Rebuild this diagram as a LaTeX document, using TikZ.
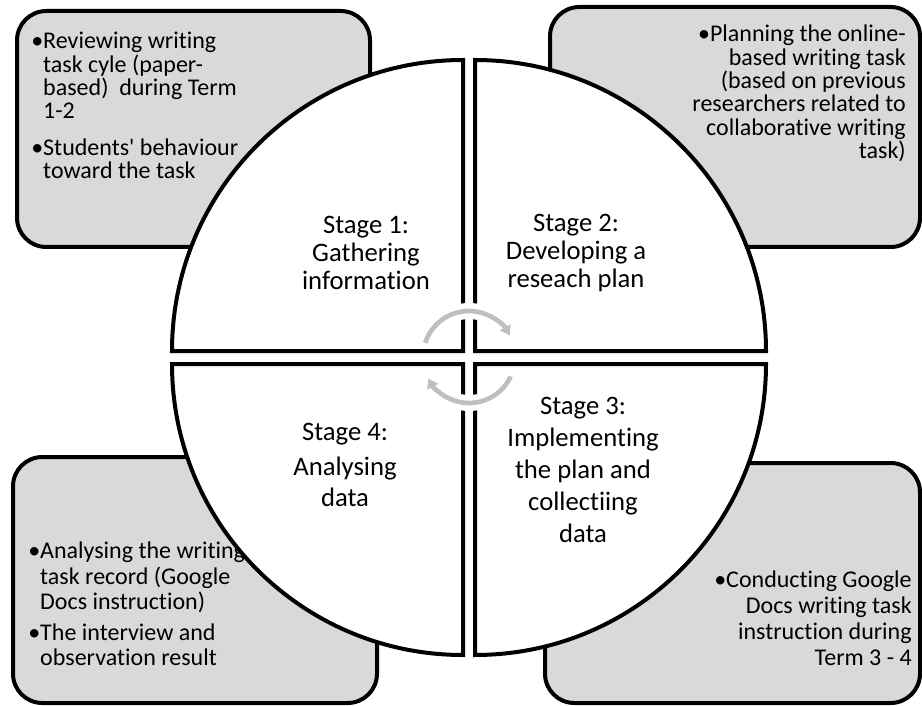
\documentclass[tikz,border=0pt]{standalone}
\usepackage{fontspec}
\setmainfont{Carlito}[Ligatures={NoCommon}]
\usetikzlibrary{arrows.meta}

\definecolor{boxgray}{RGB}{217,217,217}
\definecolor{arrowgray}{RGB}{191,191,191}

\tikzset{
  infobox/.style={draw=black, line width=3pt, fill=boxgray, rounded corners=22pt},
  quadrant/.style={draw=black, line width=3pt, fill=white},
  infotext/.style={inner sep=0pt, font=\fontsize{18}{17.5}\selectfont},
  stagetext/.style={inner sep=0pt, align=center, font=\fontsize{20}{21}\selectfont},
  cyclearc/.style={draw=arrowgray, line width=3.5pt, -{Triangle[length=7pt,width=9pt]}},
  gaperase/.style={draw=white, line width=12pt},
}
\newcommand{\hang}{\phantom{\textbullet}}

\begin{document}
\begin{tikzpicture}[x=0.75pt,y=0.75pt,yscale=-1,xscale=1]
    \useasboundingbox (0,0) rectangle (922,706);

    %Shape: Rounded Rect [id:boxTL]
    \draw [infobox] (17,11) rectangle (370,247) ;
    %Shape: Rounded Rect [id:boxTR]
    \draw [infobox] (550,7) rectangle (920,247) ;
    %Shape: Rounded Rect [id:boxBL]
    \draw [infobox] (13,457) rectangle (377,703) ;
    %Shape: Rounded Rect [id:boxBR]
    \draw [infobox] (545,463) rectangle (920,703) ;

    % Text Node
    \node (infoTL) [infotext, anchor=north west, align=left] at (31,32) {\textbullet Reviewing writing\\
    \hang task cyle (paper-\\
    \hang based)\ \ during Term\\
    \hang 1-2\\[10pt]
    \textbullet Students\textquotesingle{} behaviour\\
    \hang toward the task};
    % Text Node
    \node (infoTR) [infotext, anchor=north east, align=right] at (906,25) {\textbullet Planning the online-\\
    based writing task\\
    (based on previous\\
    researchers related to\\
    collaborative writing\\
    task)};
    % Text Node
    \node (infoBL) [infotext, anchor=north west, align=left, font=\fontsize{18}{19}\selectfont] at (28,542) {\textbullet Analysing the writing\\
    \hang task record (Google\\
    \hang Docs instruction)\\[4pt]
    \textbullet The interview and\\
    \hang observation result};
    % Text Node
    \node (infoBR) [infotext, anchor=north east, align=right, font=\fontsize{18}{19.5}\selectfont] at (912,571) {\textbullet Conducting Google\\
    Docs writing task\\
    instruction during\\
    Term 3 - 4};

    %Shape: Quarter Circle [id:quadTL]
    \draw [quadrant] (463,351) -- (172,351) arc [start angle=180, end angle=270, radius=291] -- cycle ;
    %Shape: Quarter Circle [id:quadTR]
    \draw [quadrant] (475,351) -- (475,60) arc [start angle=270, end angle=360, radius=291] -- cycle ;
    %Shape: Quarter Circle [id:quadBR]
    \draw [quadrant] (475,364) -- (766,364) arc [start angle=0, end angle=90, radius=291] -- cycle ;
    %Shape: Quarter Circle [id:quadBL]
    \draw [quadrant] (463,364) -- (463,655) arc [start angle=90, end angle=180, radius=291] -- cycle ;

    % Text Node
    \node (stage1) [stagetext] at (366,253) {Stage 1:\\Gathering\\information};
    % Text Node
    \node (stage2) [stagetext] at (576,253) {Stage 2:\\Developing a\\reseach plan};
    % Text Node
    \node (stage3) [stagetext, font=\fontsize{20}{24}\selectfont] at (583,470) {Stage 3:\\Implementing\\the plan and\\collectiing\\data};
    % Text Node
    \node (stage4) [stagetext, font=\fontsize{20}{23}\selectfont] at (345,465) {Stage 4:\\[3pt]Analysing\\data};

    %Shape: Circular Arrow [id:cycleTop]
    \draw [gaperase] (469,357) ++(258:46) arc [start angle=258, end angle=282, radius=46] ;
    \draw [cyclearc] (469,357) ++(198:46) arc [start angle=198, end angle=332, radius=46] ;
    %Shape: Circular Arrow [id:cycleBottom]
    \draw [gaperase] (469,357) ++(78:46) arc [start angle=78, end angle=102, radius=46] ;
    \draw [cyclearc] (469,357) ++(25:46) arc [start angle=25, end angle=152, radius=46] ;
\end{tikzpicture}
\end{document}
